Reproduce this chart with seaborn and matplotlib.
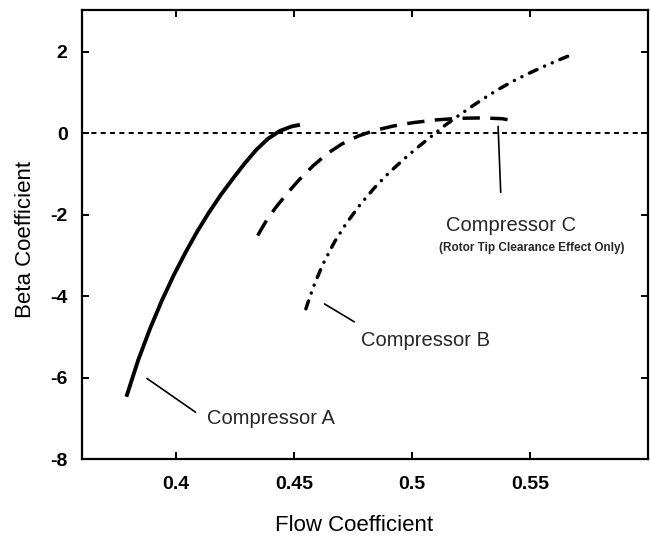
import matplotlib
matplotlib.use("Agg")
import matplotlib.pyplot as plt
import seaborn as sns
import pandas as pd

# ---- data ----
comp_a_flow = [0.379, 0.384, 0.389, 0.394, 0.399, 0.404, 0.409, 0.414, 0.419, 0.424,
               0.429, 0.434, 0.439, 0.444, 0.449, 0.4525]
comp_a_beta = [-6.47, -5.57, -4.80, -4.11, -3.49, -2.93, -2.41, -1.94, -1.51, -1.12,
               -0.745, -0.405, -0.13, 0.06, 0.17, 0.21]

comp_b_flow = [0.455, 0.458, 0.462, 0.467, 0.472, 0.478, 0.484, 0.490, 0.496, 0.502, 0.508,
               0.514, 0.520, 0.526, 0.532, 0.538, 0.544, 0.550, 0.556, 0.562, 0.567]
comp_b_beta = [-4.31, -3.80, -3.24, -2.68, -2.22, -1.75, -1.34, -0.98, -0.66, -0.36, -0.08,
               0.20, 0.45, 0.69, 0.92, 1.13, 1.32, 1.49, 1.65, 1.80, 1.92]

comp_c_flow = [0.4346, 0.438, 0.442, 0.447, 0.452, 0.458, 0.464, 0.470, 0.477, 0.484,
               0.492, 0.500, 0.510, 0.520, 0.530, 0.538, 0.543]
comp_c_beta = [-2.51, -2.17, -1.84, -1.48, -1.15, -0.80, -0.50, -0.27, -0.07, 0.07,
               0.18, 0.26, 0.33, 0.37, 0.38, 0.36, 0.31]

x_ticks = [0.4, 0.45, 0.5, 0.55]
x_tick_labels = ["0.4", "0.45", "0.5", "0.55"]
y_ticks = [-8, -6, -4, -2, 0, 2]
y_tick_labels = ["-8", "-6", "-4", "-2", "0", "2"]

sns.set_theme(style="ticks")
plt.rcParams["font.family"] = ["Liberation Sans", "DejaVu Sans"]

fig = plt.figure(figsize=(6.5, 5.38), dpi=100)
ax = fig.add_axes([0.1254, 0.1468, 0.8720, 0.8346])

df_a = pd.DataFrame({"flow": comp_a_flow, "beta": comp_a_beta})
df_b = pd.DataFrame({"flow": comp_b_flow, "beta": comp_b_beta})
df_c = pd.DataFrame({"flow": comp_c_flow, "beta": comp_c_beta})

ax.axhline(0, color="black", lw=1.4, linestyle=(0, (2.6, 2.2)), zorder=1)

sns.lineplot(data=df_a, x="flow", y="beta", ax=ax, sort=False, color="black",
             lw=2.8, solid_capstyle="butt", solid_joinstyle="round")
sns.lineplot(data=df_c, x="flow", y="beta", ax=ax, sort=False, color="black",
             lw=2.5, linestyle=(0, (5, 3)), dash_capstyle="butt")
sns.lineplot(data=df_b, x="flow", y="beta", ax=ax, sort=False, color="black",
             lw=2.5, linestyle=(0, (2.4, 2.4, 0.01, 2.4, 0.01, 2.4)), dash_capstyle="round")

ax.set_xlim(0.36, 0.60)
ax.set_ylim(-8, 3.03)
ax.set_xticks(x_ticks)
ax.set_xticklabels(x_tick_labels)
ax.set_yticks(y_ticks)
ax.set_yticklabels(y_tick_labels)

for lab in ax.get_xticklabels() + ax.get_yticklabels():
    lab.set_fontweight("bold")
ax.tick_params(axis="both", which="major", direction="in", length=5, width=1.4,
               labelsize=14, color="black", labelcolor="black",
               top=True, right=True)
ax.tick_params(axis="x", pad=12)
ax.tick_params(axis="y", pad=10)

for sp in ax.spines.values():
    sp.set_linewidth(1.6)
    sp.set_color("black")
    sp.set_visible(True)

ax.set_xlabel("Flow Coefficient", fontsize=16, color="black", va="center")
ax.set_ylabel("Beta Coefficient", fontsize=16, color="black", va="center")
ax.xaxis.set_label_coords(0.48, -0.147)
ax.yaxis.set_label_coords(-0.0996, 0.488)

ann_kw = dict(arrowprops=dict(arrowstyle="-", color="black", lw=1.2,
                              shrinkA=0, shrinkB=0),
              color="black")
ax.annotate("", xy=(0.3877, -6.02), xytext=(0.4083, -6.85), **ann_kw)
ax.text(0.413, -7.01, "Compressor A", fontsize=14.5, ha="left", va="center")

ax.annotate("", xy=(0.4629, -4.19), xytext=(0.4755, -4.63), **ann_kw)
ax.text(0.4782, -5.1, "Compressor B", fontsize=14.5, ha="left", va="center")

ax.annotate("", xy=(0.5364, 0.17), xytext=(0.5375, -1.45), **ann_kw)
ax.text(0.5418, -2.27, "Compressor C", fontsize=14.5, ha="center", va="center")
ax.text(0.5505, -2.82, "(Rotor Tip Clearance Effect Only)", fontsize=8.5,
        fontweight="bold", ha="center", va="center")

fig.savefig("out.png", dpi=100)
